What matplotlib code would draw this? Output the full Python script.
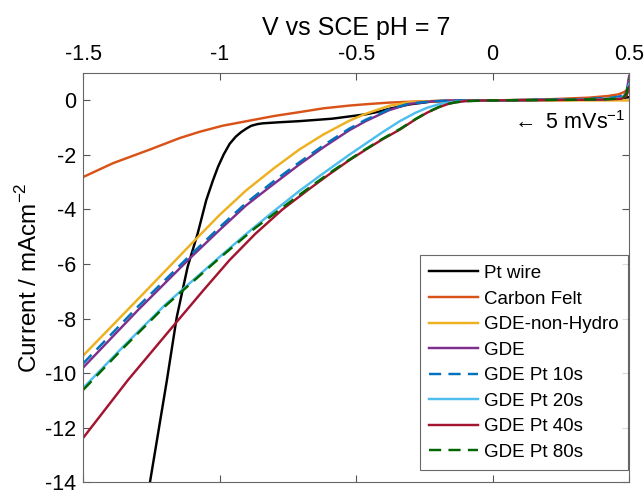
import matplotlib.pyplot as plt
import numpy as np

plt.rcParams['font.family'] = ['Liberation Sans', 'DejaVu Sans']
plt.rcParams['mathtext.fontset'] = 'custom'
plt.rcParams['mathtext.rm'] = 'Liberation Sans'

# potential (V vs SCE) / current (mA cm^-2)
pt_wire_v = [-1.255, -1.193, -1.157, -1.117, -1.080, -1.049, -1.025, -1.006, -0.985, -0.963, -0.941,
             -0.921, -0.90, -0.884, -0.862, -0.842, -0.78, -0.708, -0.588, -0.465, -0.42, -0.38,
             -0.307, -0.223, -0.16, 0.0, 0.3, 0.45, 0.5]
pt_wire_i = [-14.0, -10.26, -7.95, -6.1, -4.87, -3.66, -2.95, -2.44, -1.98, -1.59, -1.33,
             -1.16, -1.02, -0.93, -0.87, -0.84, -0.80, -0.76, -0.67, -0.51, -0.42, -0.31,
             -0.15, -0.04, -0.01, 0.0, 0.02, 0.05, 0.12]

felt_v = [-1.5, -1.39, -1.255, -1.146, -1.073, -0.99, -0.89, -0.80, -0.708, -0.62, -0.526,
          -0.465, -0.38, -0.282, -0.18, 0.0, 0.2, 0.35, 0.42, 0.46, 0.48, 0.495, 0.5]
felt_i = [-2.81, -2.30, -1.80, -1.38, -1.15, -0.93, -0.74, -0.57, -0.43, -0.29, -0.19,
          -0.14, -0.08, -0.04, -0.02, 0.0, 0.04, 0.1, 0.16, 0.22, 0.3, 0.4, 0.55]

nonhydro_v = [-1.5, -1.3, -1.091, -1.0, -0.903, -0.8, -0.708, -0.62, -0.526, -0.465, -0.38,
              -0.307, -0.22, 0.0, 0.5]
nonhydro_i = [-9.36, -7.3, -5.13, -4.2, -3.3, -2.48, -1.80, -1.25, -0.75, -0.49, -0.20,
              -0.07, -0.02, 0.0, 0.0]

gde_v = [-1.5, -1.3, -1.11, -1.0, -0.903, -0.8, -0.708, -0.62, -0.526, -0.465, -0.38,
         -0.307, -0.22, -0.15, 0.0, 0.4, 0.46, 0.48, 0.49, 0.5]
gde_i = [-9.8, -7.7, -5.80, -4.75, -3.85, -3.05, -2.35, -1.72, -1.10, -0.76, -0.36,
         -0.13, -0.03, -0.005, 0.0, 0.05, 0.08, 0.15, 0.3, 0.9]

pt10_v = [-1.5, -1.3, -1.11, -1.0, -0.903, -0.8, -0.708, -0.62, -0.526, -0.465, -0.38,
          -0.307, -0.22, -0.15, 0.0, 0.3, 0.42, 0.46, 0.48, 0.49, 0.5]
pt10_i = [-9.65, -7.57, -5.70, -4.65, -3.76, -2.95, -2.27, -1.65, -1.04, -0.71, -0.33,
          -0.12, -0.03, -0.005, 0.0, 0.04, 0.09, 0.13, 0.2, 0.3, 0.65]

pt20_v = [-1.5, -1.35, -1.2, -1.0, -0.903, -0.8, -0.708, -0.635, -0.526, -0.46, -0.404,
          -0.34, -0.282, -0.24, -0.197, -0.15, -0.1, 0.0, 0.4, 0.47, 0.49, 0.5]
pt20_i = [-10.55, -9.0, -7.5, -5.74, -4.9, -4.05, -3.32, -2.78, -2.0, -1.55, -1.17,
          -0.76, -0.45, -0.27, -0.14, -0.06, -0.02, 0.0, 0.04, 0.08, 0.2, 0.6]

pt40_v = [-1.5, -1.336, -1.157, -1.06, -0.964, -0.87, -0.77, -0.672, -0.6, -0.526, -0.464,
          -0.404, -0.34, -0.282, -0.24, -0.197, -0.16, -0.136, -0.1, -0.05, 0.0,
          0.4, 0.47, 0.49, 0.5]
pt40_i = [-12.38, -10.26, -8.12, -6.97, -5.86, -4.9, -4.0, -3.25, -2.72, -2.2, -1.8,
          -1.43, -1.07, -0.69, -0.45, -0.25, -0.12, -0.07, -0.025, -0.005, 0.0,
          0.03, 0.06, 0.15, 0.5]

pt80_v = [-1.5, -1.35, -1.2, -1.0, -0.87, -0.77, -0.672, -0.6, -0.526, -0.464, -0.404,
          -0.34, -0.282, -0.24, -0.197, -0.16, -0.136, -0.1, 0.0, 0.4, 0.46, 0.48, 0.49, 0.5]
pt80_i = [-10.62, -9.05, -7.55, -5.78, -4.68, -3.93, -3.2, -2.68, -2.18, -1.78, -1.41,
          -1.05, -0.68, -0.44, -0.24, -0.12, -0.07, -0.025, 0.0, 0.04, 0.07, 0.12, 0.25, 0.8]

fig = plt.figure(figsize=(6.44, 4.91), dpi=100)
ax = fig.add_axes([0.129, 0.018, 0.848, 0.833])

lw = 1.75
dash = (0, (5, 3))
ax.plot(pt_wire_v, pt_wire_i, color='black', lw=lw, label='Pt wire')
ax.plot(felt_v, felt_i, color=(0.85, 0.325, 0.098), lw=lw, label='Carbon Felt')
ax.plot(nonhydro_v, nonhydro_i, color=(0.929, 0.694, 0.125), lw=lw, label='GDE-non-Hydro')
ax.plot(gde_v, gde_i, color=(0.494, 0.184, 0.556), lw=lw, label='GDE')
ax.plot(pt10_v, pt10_i, color=(0.0, 0.447, 0.741), lw=lw, ls=dash, label='GDE Pt 10s')
ax.plot(pt20_v, pt20_i, color=(0.301, 0.745, 0.933), lw=lw, label='GDE Pt 20s')
ax.plot(pt40_v, pt40_i, color=(0.635, 0.078, 0.184), lw=lw, label='GDE Pt 40s')
ax.plot(pt80_v, pt80_i, color=(0.0, 0.4, 0.0), lw=lw, ls=dash, label='GDE Pt 80s')

ax.set_xlim(-1.5, 0.5)
ax.set_ylim(-14, 1)
ax.set_xticks([-1.5, -1, -0.5, 0, 0.5])
ax.set_xticklabels(['-1.5', '-1', '-0.5', '0', '0.5'])
ax.set_yticks(range(-14, 1, 2))
ax.set_yticklabels([str(v) for v in range(-14, 1, 2)])
ax.xaxis.tick_top()
ax.xaxis.set_label_position('top')
ax.tick_params(axis='both', direction='in', length=5, width=0.8, color='#555555',
               labelsize=15.5, top=True, bottom=True, left=True, right=True,
               labeltop=True, labelbottom=False)
ax.tick_params(axis='x', pad=6)
ax.tick_params(axis='y', pad=5)
for s in ax.spines.values():
    s.set_color('#666666')
    s.set_linewidth(0.8)

ax.set_xlabel('V vs SCE pH = 7', fontsize=18, labelpad=6)
ax.set_ylabel('Current / mAcm$^{-2}$', fontsize=17.5, labelpad=2)

ax.text(0.485, -0.8, r'$\leftarrow$ 5 mVs$^{-1}$', fontsize=15.5, ha='right', va='center')

leg = ax.legend(loc='lower right', bbox_to_anchor=(0.998, 0.029), fontsize=13.5,
                frameon=True, fancybox=False, borderaxespad=0.0, handlelength=2.6,
                handletextpad=0.32, labelspacing=0.45, borderpad=0.5)
leg.get_frame().set_edgecolor('#444444')
leg.get_frame().set_linewidth(0.8)

fig.savefig('out.png', dpi=100)
